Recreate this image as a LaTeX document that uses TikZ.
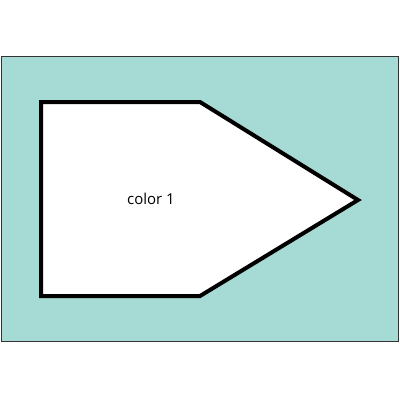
\documentclass[tikz,border=0pt]{standalone}
\usepackage{fontspec}
\setmainfont{Open Sans}
\definecolor{teal1}{HTML}{A6DAD4}
\definecolor{frame1}{HTML}{333333}
\begin{document}
\begin{tikzpicture}[x=1pt,y=-1pt,
  outerbox/.style={fill=teal1,draw=frame1,line width=1.5pt},
  shapeline/.style={fill=white,draw=black,line width=4pt,line join=miter},
  lbl/.style={font=\fontsize{15}{17}\selectfont,inner sep=0pt}]
\useasboundingbox (0,0) rectangle (400,400);
\draw[outerbox] (1.5,56.5) rectangle (398.5,341.5);
\draw[shapeline] (41,102) -- (200,102) -- (358,200) -- (200,296) -- (41,296) -- cycle;
\node[lbl] (c1) at (151,199) {color 1};
\end{tikzpicture}
\end{document}
